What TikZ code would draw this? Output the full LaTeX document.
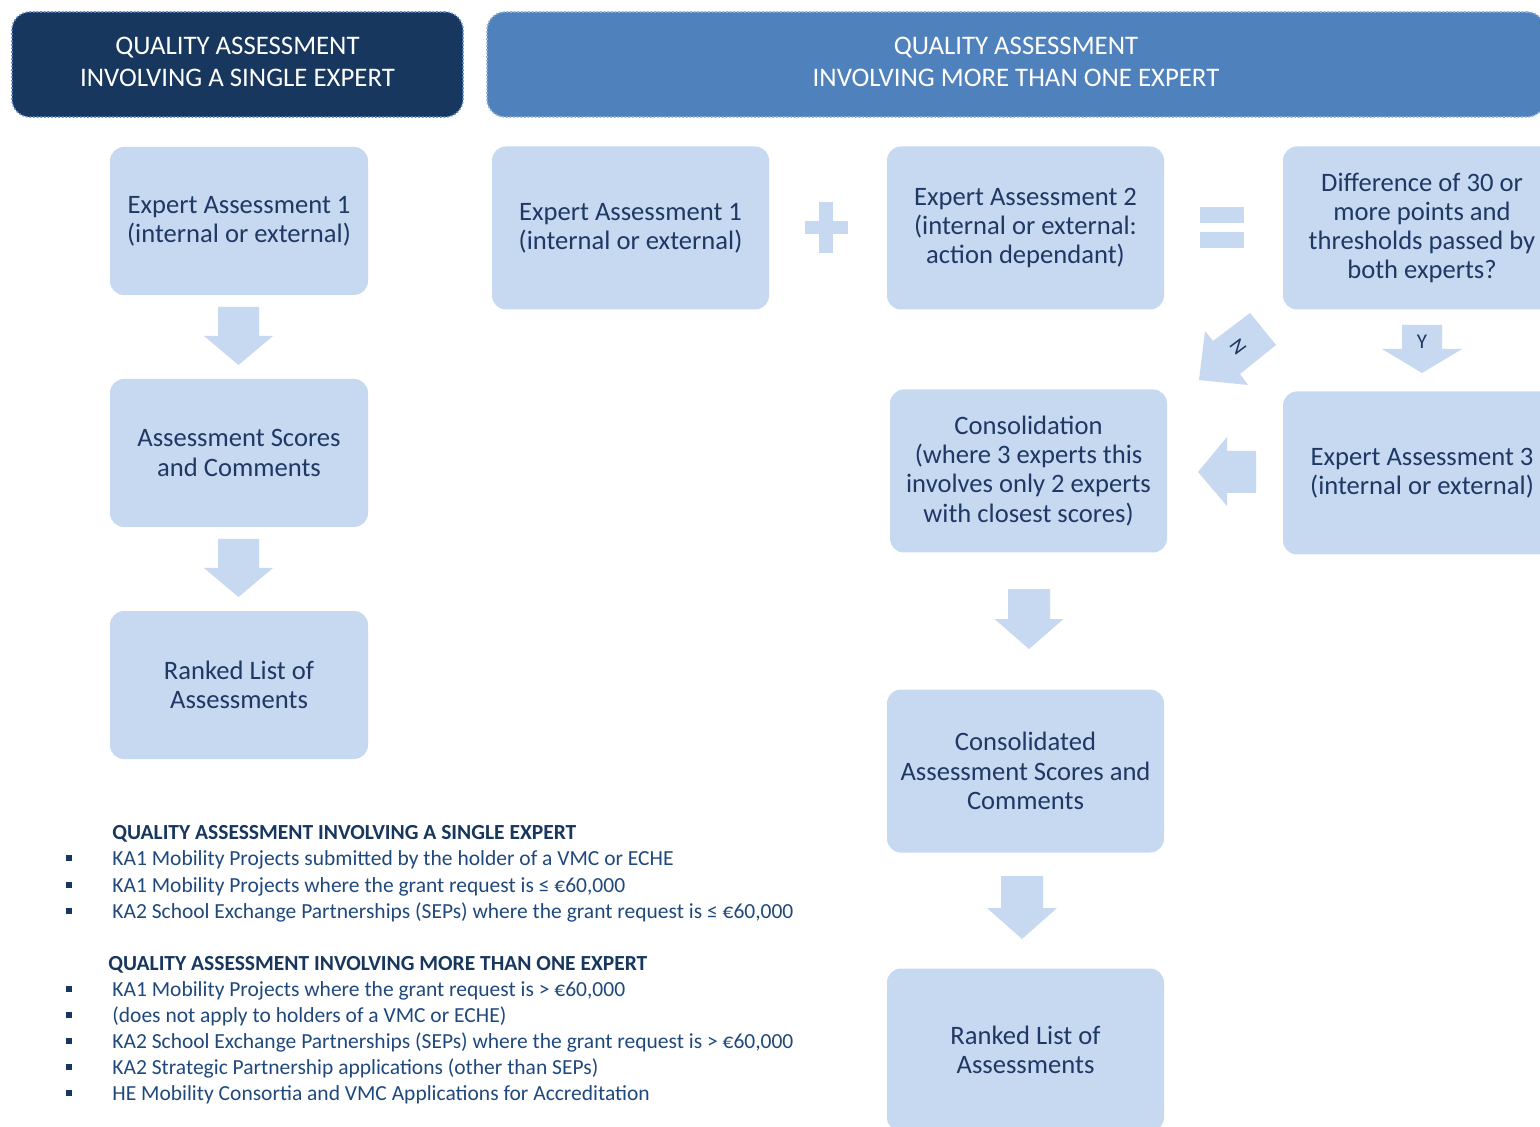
\documentclass[tikz,border=0pt]{standalone}
\usepackage{fontspec}
\setmainfont{Carlito}
\usetikzlibrary{calc}
\definecolor{boxfill}{HTML}{C6D9F1}
\definecolor{navy}{HTML}{17375E}
\definecolor{txt}{HTML}{1F3864}
\definecolor{hdrR}{HTML}{4F81BD}
\definecolor{dotL}{HTML}{5A8AC6}
\definecolor{dotR}{HTML}{95B3D7}
\definecolor{listtxt}{HTML}{1F497D}
\newcommand{\downarr}[6]{% cx, top, base, tip, halfshaft, halfhead
  \fill[boxfill] (#1-#5,#2) -- (#1+#5,#2) -- (#1+#5,#3) -- (#1+#6,#3) -- (#1,#4) -- (#1-#6,#3) -- (#1-#5,#3) -- cycle;}
\begin{document}
\begin{tikzpicture}[x=0.5pt,y=-0.5pt,
  box/.style={fill=boxfill, rounded corners=7pt, text=txt, align=center,
    font=\fontsize{13.3}{14.6}\selectfont, inner sep=0pt},
  hdr/.style={rounded corners=9pt, text=white, align=center, densely dotted, line width=0.8pt,
    font=\fontsize{13.4}{16}\selectfont, inner sep=0pt},
  lhead/.style={anchor=base west, text=navy, font=\fontsize{10.75}{12}\bfseries\selectfont, inner sep=0pt},
  litem/.style={anchor=base west, text=listtxt, font=\fontsize{10.75}{12}\selectfont, inner sep=0pt},
  bul/.style={fill=navy}]
\clip (0,0) rectangle (1540,1127);
\fill[white] (0,0) rectangle (1540,1127);
% headers
\node[hdr, fill=navy, draw=dotL, minimum width=225.5pt, minimum height=52.5pt] (hL) at (237.5,64.5) {};
\node[text=white, align=center, font=\fontsize{13.4}{16}\selectfont, inner sep=0pt] (hLt) at (237.5,61.5)
  {QUALITY ASSESSMENT\\INVOLVING A SINGLE EXPERT};
\node[hdr, fill=hdrR, draw=dotR, minimum width=529pt, minimum height=52.5pt] (hR) at (1016,64.5) {};
\node[text=white, align=center, font=\fontsize{13.4}{16}\selectfont, inner sep=0pt] (hRt) at (1016,61.5)
  {QUALITY ASSESSMENT\\INVOLVING MORE THAN ONE EXPERT};
% left column
\node[box, minimum width=129pt, minimum height=74pt] (l1) at (239,221) {Expert Assessment 1\\(internal or external)};
\node[box, minimum width=129pt, minimum height=74pt] (l2) at (239,453) {Assessment Scores\\and Comments};
\node[box, minimum width=129pt, minimum height=74pt] (l3) at (239,685) {Ranked List of\\Assessments};
\downarr{238.5}{307}{336}{365}{20.5}{34.5}
\downarr{238.5}{539}{568}{597}{20.5}{34.5}
% right part
\node[box, minimum width=138.5pt, minimum height=81.5pt] (r1) at (630.5,228) {Expert Assessment 1\\(internal or external)};
\node[box, minimum width=138.5pt, minimum height=81.5pt] (r2) at (1025.5,228) {Expert Assessment 2\\(internal or external:\\action dependant)};
\node[box, minimum width=139pt, minimum height=81.5pt] (r3) at (1422,228) {Difference of 30 or\\more points and\\thresholds passed by\\both experts?};
\node[box, minimum width=138.5pt, minimum height=81.5pt] (r4) at (1028.5,471) {Consolidation\\(where 3 experts this\\involves only 2 experts\\with closest scores)};
\node[box, minimum width=139pt, minimum height=81.5pt] (r5) at (1422,473) {Expert Assessment 3\\(internal or external)};
\node[box, minimum width=138.5pt, minimum height=81.5pt] (r6) at (1025.5,771) {Consolidated\\Assessment Scores and\\Comments};
\node[box, minimum width=138.5pt, minimum height=81.5pt] (r7) at (1025.5,1050) {Ranked List of\\Assessments};
% plus
\fill[boxfill] (819,202) rectangle (833,253);
\fill[boxfill] (805,221) rectangle (848,234);
% equals
\fill[boxfill] (1200,207) rectangle (1244,223);
\fill[boxfill] (1200,232) rectangle (1244,248);
% N arrow
\fill[boxfill] (1250,313) -- (1276,345) -- (1240,374) -- (1248,385) -- (1199,380) -- (1205,331) -- (1213,341) -- cycle;
\node[rotate=-53, text=txt, font=\fontsize{10.5}{12}\selectfont, inner sep=0pt] (nlab) at (1238,347) {N};
% Y arrow
\downarr{1422}{325}{349}{373}{20}{40}
\node[text=txt, font=\fontsize{10.5}{12}\selectfont, inner sep=0pt] (ylab) at (1422,342) {Y};
% left arrow
\fill[boxfill] (1256,451) -- (1256,493) -- (1227,493) -- (1227,506) -- (1198,472) -- (1227,437) -- (1227,451) -- cycle;
% down arrows right
\downarr{1029}{589}{619}{649}{21}{34.5}
\downarr{1022}{876}{908}{939}{21}{35}
% list 1
\node[lhead] (h1) at (112,839) {QUALITY ASSESSMENT INVOLVING A SINGLE EXPERT};
\node[litem] (a1) at (112,865) {KA1 Mobility Projects submitted by the holder of a VMC or ECHE};
\node[litem] (a2) at (112,892) {KA1 Mobility Projects where the grant request is ≤ €60,000};
\node[litem] (a3) at (112,918) {KA2 School Exchange Partnerships (SEPs) where the grant request is ≤ €60,000};
\foreach \yy in {858,885,911} \fill[bul] (66,\yy-3) rectangle (72,\yy+3);
% list 2
\node[lhead] (h2) at (108,970) {QUALITY ASSESSMENT INVOLVING MORE THAN ONE EXPERT};
\node[litem] (b1) at (112,996) {KA1 Mobility Projects where the grant request is > €60,000};
\node[litem] (b2) at (112,1022) {(does not apply to holders of a VMC or ECHE)};
\node[litem] (b3) at (112,1048) {KA2 School Exchange Partnerships (SEPs) where the grant request is > €60,000};
\node[litem] (b4) at (112,1074) {KA2 Strategic Partnership applications (other than SEPs)};
\node[litem] (b5) at (112,1100) {HE Mobility Consortia and VMC Applications for Accreditation};
\foreach \yy in {989,1015,1041,1067,1093} \fill[bul] (66,\yy-3) rectangle (72,\yy+3);
\end{tikzpicture}
\end{document}
